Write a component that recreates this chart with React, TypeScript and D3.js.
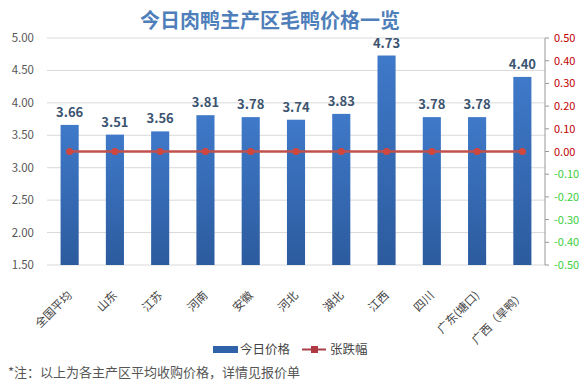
import React from 'react';
import * as d3 from 'd3';

const categories = ['全国平均', '山东', '江苏', '河南', '安徽', '河北', '湖北', '江西', '四川', '广东(塘口)', '广西（旱鸭）'];
const prices = [3.66, 3.51, 3.56, 3.81, 3.78, 3.74, 3.83, 4.73, 3.78, 3.78, 4.4];
const changes = [0, 0, 0, 0, 0, 0, 0, 0, 0, 0, 0];
const leftTicks = [1.5, 2, 2.5, 3, 3.5, 4, 4.5, 5];
const rightTicks = [-0.5, -0.4, -0.3, -0.2, -0.1, 0, 0.1, 0.2, 0.3, 0.4, 0.5];

const W = 586;
const H = 388;
const margin = { top: 38, right: 41, bottom: 123, left: 47 };
const FONT = '"Noto Sans CJK SC", "Noto Sans", sans-serif';

const App: React.FC = () => {
  const x = d3
    .scaleBand<string>()
    .domain(categories)
    .range([margin.left, W - margin.right])
    .paddingInner(0.6)
    .paddingOuter(0.3);
  const yL = d3.scaleLinear().domain([1.5, 5]).range([H - margin.bottom, margin.top]);
  const yR = d3.scaleLinear().domain([-0.5, 0.5]).range([H - margin.bottom, margin.top]);

  const line = d3
    .line<number>()
    .x((_, i) => (x(categories[i]) as number) + x.bandwidth() / 2)
    .y((d) => yR(d));

  const axisX = W - margin.right;

  return (
    <svg width={W} height={H} style={{ position: 'absolute', left: 0, top: 0, background: '#fff' }} fontFamily={FONT}>
      <defs>
        <linearGradient id="barGrad" x1="0" y1="0" x2="0" y2="1">
          <stop offset="0%" stopColor="#3f79c9" />
          <stop offset="100%" stopColor="#2c5b9e" />
        </linearGradient>
      </defs>

      <text x={270} y={28} textAnchor="middle" fontSize={20} fontWeight="bold" fill="#4f7fba">
        今日肉鸭主产区毛鸭价格一览
      </text>

      {/* grid + left labels */}
      {leftTicks.map((t) => (
        <g key={t}>
          <line x1={margin.left} x2={axisX} y1={yL(t)} y2={yL(t)} stroke="#d9d9d9" strokeWidth={1} />
          <text x={34} y={yL(t) + 4} textAnchor="end" fontSize={11.5} fill="#555">
            {t.toFixed(2)}
          </text>
        </g>
      ))}

      {/* right axis */}
      <line x1={axisX} x2={axisX} y1={margin.top} y2={H - margin.bottom} stroke="#999" />
      {rightTicks.map((t) => (
        <g key={t}>
          <line x1={axisX} x2={axisX + 4} y1={yR(t)} y2={yR(t)} stroke="#999" />
          <text x={554} y={yR(t) + 4} fontSize={11} fill={t >= 0 ? '#c00000' : '#3ccf3c'}>
            {(Math.abs(t) < 1e-9 ? 0 : t).toFixed(2)}
          </text>
        </g>
      ))}

      {/* bars */}
      {prices.map((v, i) => {
        const bx = x(categories[i]) as number;
        return (
          <g key={categories[i]}>
            <rect x={bx} y={yL(v)} width={x.bandwidth()} height={yL(1.5) - yL(v)} fill="url(#barGrad)" />
            <text
              x={bx + x.bandwidth() / 2}
              y={yL(v) - 8}
              textAnchor="middle"
              fontSize={13}
              fontWeight="bold"
              fill="#3d5470"
            >
              {v.toFixed(2)}
            </text>
          </g>
        );
      })}

      {/* change line */}
      <path d={line(changes) as string} fill="none" stroke="#c0504d" strokeWidth={2.5} />
      {changes.map((v, i) => (
        <circle
          key={i}
          cx={(x(categories[i]) as number) + x.bandwidth() / 2}
          cy={yR(v)}
          r={3.6}
          fill="#d0473f"
        />
      ))}

      {/* x labels */}
      {categories.map((c) => {
        const cx = (x(c) as number) + x.bandwidth() / 2;
        return (
          <text
            key={c}
            transform={`translate(${cx + 3},${H - margin.bottom + 31}) rotate(-45)`}
            textAnchor="end"
            fontSize={11.5}
            fill="#444"
          >
            {c}
          </text>
        );
      })}

      {/* legend */}
      <rect x={213} y={346} width={25} height={7} fill="#2f62a8" />
      <text x={240} y={354} fontSize={12.5} fill="#444">今日价格</text>
      <line x1={302} x2={326} y1={349.5} y2={349.5} stroke="#a8404a" strokeWidth={2} />
      <rect x={311} y={346} width={7} height={7} fill="#b03a44" />
      <text x={330} y={354} fontSize={12.5} fill="#444">张跌幅</text>

      <text x={8} y={377} fontSize={13} fill="#555">
        *注：以上为各主产区平均收购价格，详情见报价单
      </text>
    </svg>
  );
};

export default App;
